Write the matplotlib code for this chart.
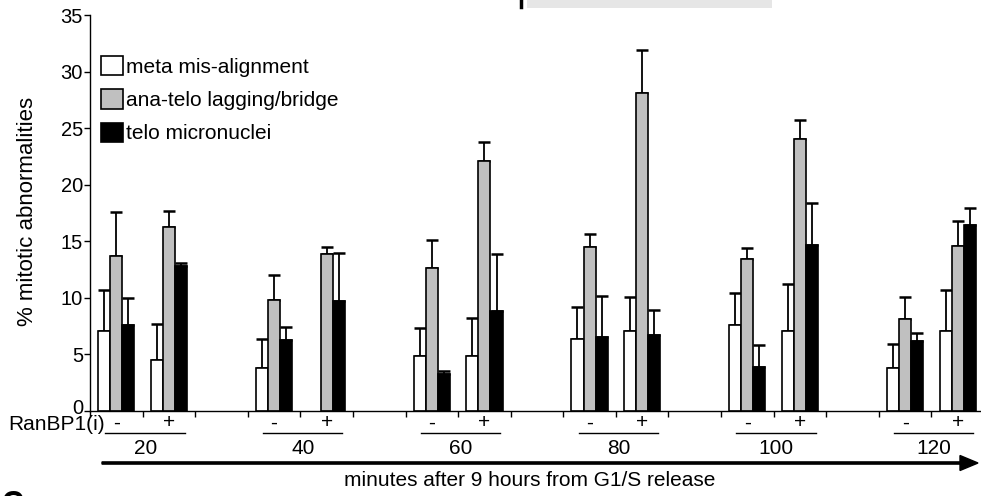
import matplotlib
matplotlib.use("Agg")
import matplotlib.pyplot as plt
import numpy as np
from matplotlib.patches import Rectangle

plt.rcParams['font.family'] = ['Liberation Sans', 'DejaVu Sans']

times = [20, 40, 60, 80, 100, 120]
treatments = ['-', '+']
series_names = ['meta mis-alignment', 'ana-telo lagging/bridge', 'telo micronuclei']

# order: 20-, 20+, 40-, 40+, 60-, 60+, 80-, 80+, 100-, 100+, 120-, 120+
meta = [7.1, 4.5, 3.8, 0.0, 4.9, 4.9, 6.4, 7.1, 7.6, 7.1, 3.8, 7.1]
meta_err = [3.6, 3.2, 2.6, 0.0, 2.4, 3.3, 2.8, 3.0, 2.8, 4.1, 2.1, 3.6]
ana = [13.7, 16.3, 9.8, 13.9, 12.6, 22.1, 14.5, 28.1, 13.4, 24.0, 8.1, 14.6]
ana_err = [3.9, 1.4, 2.2, 0.6, 2.5, 1.7, 1.1, 3.8, 1.0, 1.7, 2.0, 2.2]
telo = [7.6, 12.8, 6.3, 9.7, 3.3, 8.8, 6.5, 6.7, 3.9, 14.7, 6.2, 16.4]
telo_err = [2.4, 0.3, 1.1, 4.3, 0.2, 5.1, 3.7, 2.2, 1.9, 3.7, 0.7, 1.5]

yticks = [0, 5, 10, 15, 20, 25, 30, 35]

FS = 15
W, H = 981, 496
fig = plt.figure(figsize=(W / 100, H / 100), dpi=100)
ax = fig.add_axes([90 / W, 1 - 411 / H, (984 - 90) / W, (411 - 15) / H])

nslots = 17
slots = []
for i in range(len(times)):
    slots += [3 * i, 3 * i + 1]
centers = np.array(slots) + 0.5

bw = 0.23
colors = ['white', '#c0c0c0', 'black']
vals = [meta, ana, telo]
errs = [meta_err, ana_err, telo_err]
handles = []
for k in range(3):
    x = centers + (k - 1) * bw
    v = np.array(vals[k])
    e = np.array(errs[k])
    show = v > 0
    b = ax.bar(x[show], v[show], width=bw, color=colors[k], edgecolor='black',
               linewidth=1.2, zorder=2)
    handles.append(b)
    ax.errorbar(x[show], v[show], yerr=[np.zeros(show.sum()), e[show]], fmt='none',
                ecolor='black', elinewidth=1.3, capsize=4.3, capthick=1.8, zorder=1)

ax.set_xlim(0, nslots)
ax.set_ylim(0, 35)
ax.set_yticks(yticks)
ax.set_yticklabels([str(t) for t in yticks], fontsize=14.5)
ax.set_xticks(np.arange(0, nslots))
ax.set_xticklabels([])
ax.tick_params(axis='y', direction='out', length=4, width=1, pad=1)
ax.tick_params(axis='x', direction='out', length=4, width=1)
# the "0" label sits a little higher in the reference
lab0 = ax.get_yticklabels()[0]
lab0.set_transform(lab0.get_transform() + matplotlib.transforms.ScaledTranslation(0, 5 / 100, fig.dpi_scale_trans))
for s in ['top', 'right']:
    ax.spines[s].set_visible(False)
ax.spines['left'].set_linewidth(1)
ax.spines['bottom'].set_linewidth(1)
ax.set_ylabel('% mitotic abnormalities', fontsize=16)
ax.yaxis.set_label_coords(38 / W, 1 - 211 / H, transform=fig.transFigure)

leg = ax.legend(handles, series_names, loc='upper left', bbox_to_anchor=(101 / W, 1 - 56 / H),
                bbox_transform=fig.transFigure,
                frameon=False, fontsize=FS, handlelength=1.05, handleheight=1.05,
                handletextpad=0.15, labelspacing=0.6, borderaxespad=0, borderpad=0)

trans = matplotlib.transforms.blended_transform_factory(ax.transData, fig.transFigure)
def fy(py):
    return 1 - py / H

fig.text(8 / W, fy(424), 'RanBP1(i)', fontsize=FS, ha='left', va='center')
for i, t in enumerate(times):
    s = 3 * i
    ax.text(s + 0.5, fy(423), treatments[0], transform=trans, ha='center', va='center', fontsize=FS)
    ax.text(s + 1.5, fy(423), treatments[1], transform=trans, ha='center', va='center', fontsize=FS)
    ax.plot([s + 0.29, s + 1.8], [fy(433), fy(433)], transform=trans, color='black',
            lw=1, clip_on=False)
    ax.text(s + 1.05, fy(449), str(t), transform=trans, ha='center', va='center', fontsize=FS)

# arrow
fig.add_artist(matplotlib.patches.FancyArrow(102 / W, fy(463), (960 - 102) / W, 0,
                                             width=2.2 / H, head_width=15 / H,
                                             head_length=18 / W, length_includes_head=False,
                                             color='black', transform=fig.transFigure))
fig.text(530 / W, fy(481), 'minutes after 9 hours from G1/S release', fontsize=FS,
         ha='center', va='center')

# cropped remnants of neighbouring panels
fig.add_artist(Rectangle((527 / W, fy(8)), (772 - 527) / W, 8 / H, transform=fig.transFigure,
                         color='#e6e6e6', lw=0))
fig.add_artist(matplotlib.lines.Line2D([521 / W, 521 / W], [fy(0), fy(7)], color='black', lw=2.5,
                                       transform=fig.transFigure))
fig.text(2 / W, fy(490), 'C', fontsize=22, fontweight='bold', ha='left', va='top')

fig.savefig('out.png', dpi=100)
